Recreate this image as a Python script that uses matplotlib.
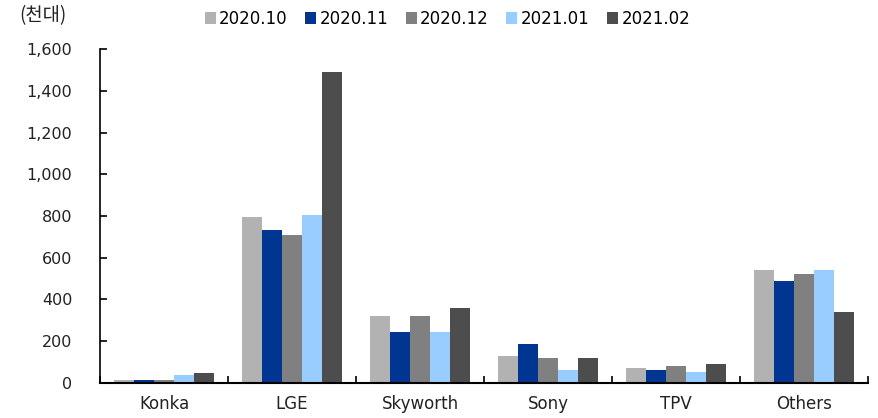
import numpy as np
import matplotlib.pyplot as plt

plt.rcParams['font.family'] = ['DejaVu Sans', 'Noto Sans CJK KR']

categories = ['Konka', 'LGE', 'Skyworth', 'Sony', 'TPV', 'Others']
series_names = ['2020.10', '2020.11', '2020.12', '2021.01', '2021.02']
values = {
    '2020.10': [12, 795, 320, 128, 70, 543],
    '2020.11': [15, 735, 245, 185, 61, 486],
    '2020.12': [12, 710, 320, 118, 80, 524],
    '2021.01': [35, 805, 245, 62, 53, 543],
    '2021.02': [45, 1490, 360, 120, 89, 338],
}
colors = ['#B2B2B2', '#003591', '#808080', '#99CCFF', '#4D4D4D']
yticks = [0, 200, 400, 600, 800, 1000, 1200, 1400, 1600]

fig = plt.figure(figsize=(8.79, 4.18), dpi=100)
ax = fig.add_axes([0.1138, 0.0844, 0.8737, 0.7976])

x = np.arange(len(categories))
w = 0.156
for i, name in enumerate(series_names):
    ax.bar(x + (i - 2) * w, values[name], width=w, color=colors[i], label=name,
           linewidth=0)

ax.set_xlim(-0.5, len(categories) - 0.5)
ax.set_ylim(0, 1600)
ax.set_yticks(yticks)
ax.set_yticklabels([f'{v:,}' for v in yticks], fontsize=11.5, color='#222222')
ax.set_xticks(x)
ax.set_xticklabels(categories, fontsize=12, color='#222222')
ax.set_xticks(np.arange(-0.5, len(categories)), minor=True)
ax.tick_params(axis='x', which='major', length=0, pad=9)
ax.tick_params(axis='x', which='minor', length=5, width=1.2, direction='in')
ax.tick_params(axis='y', length=5, width=1.2, direction='in', pad=20)
for s in ['top', 'right']:
    ax.spines[s].set_visible(False)
ax.spines['left'].set_linewidth(1.2)
ax.spines['bottom'].set_linewidth(1.5)

fig.text(0.022, 0.962, '(천대)', fontsize=13.5, family=['Noto Sans CJK KR', 'DejaVu Sans'],
         va='center', color='#222222')
fig.legend(loc='center', bbox_to_anchor=(0.509, 0.955), ncol=5, frameon=False,
           fontsize=12, handlelength=0.66, handleheight=0.66, handletextpad=0.2,
           columnspacing=1.05)

fig.savefig('out.png', dpi=100)
